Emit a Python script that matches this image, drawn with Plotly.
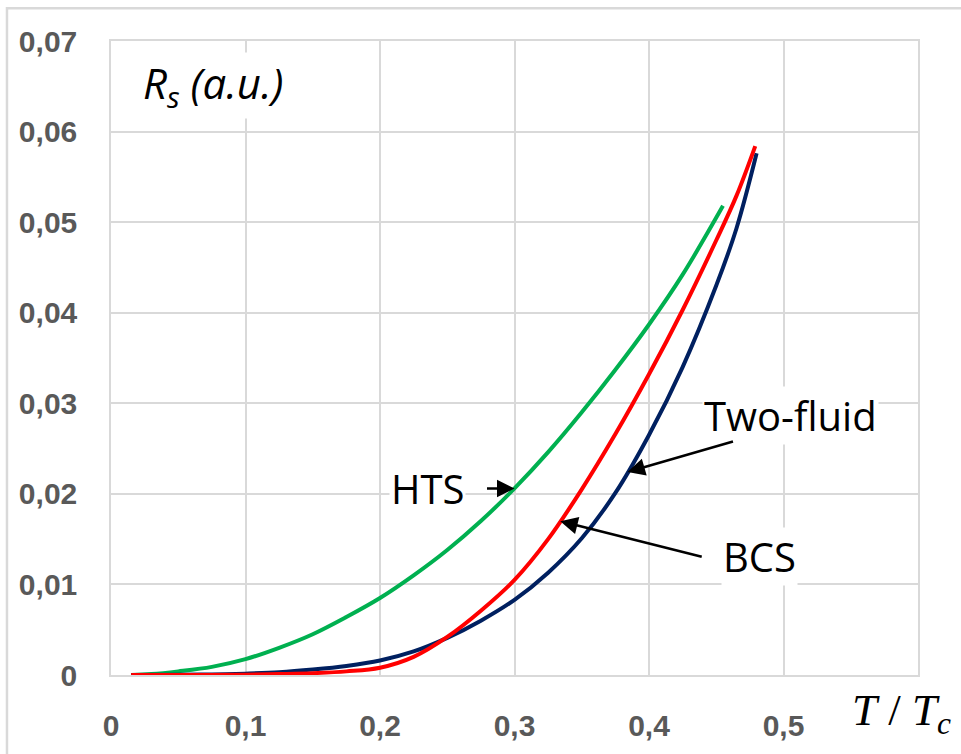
import numpy as np
import plotly.graph_objects as go

# ---- data ----
hts_T = [0.015, 0.03, 0.05, 0.075, 0.1, 0.125, 0.15, 0.175, 0.2, 0.225, 0.25,
         0.275, 0.3, 0.325, 0.35, 0.375, 0.4, 0.425, 0.455]
hts_R = [0.0, 0.0001, 0.0004, 0.0009, 0.00175, 0.0030, 0.0045, 0.0064, 0.0085,
         0.0110, 0.0138, 0.0170, 0.0206, 0.0246, 0.0290, 0.0337, 0.0387, 0.0442, 0.0518]

bcs_T = [0.015, 0.05, 0.1, 0.125, 0.15, 0.175, 0.2, 0.225, 0.25, 0.275, 0.3,
         0.325, 0.35, 0.375, 0.4, 0.425, 0.45, 0.465, 0.479]
bcs_R = [0.0, 0.0, 0.00003, 0.0001, 0.0002, 0.0004, 0.0008, 0.0020, 0.0042, 0.0071,
         0.0105, 0.0150, 0.0205, 0.0266, 0.0332, 0.0403, 0.0480, 0.0529, 0.0584]

tf_T = [0.015, 0.05, 0.075, 0.1, 0.125, 0.15, 0.175, 0.2, 0.225, 0.25, 0.275,
        0.3, 0.325, 0.35, 0.375, 0.4, 0.425, 0.45, 0.465, 0.48]
tf_R = [0.0, 0.00002, 0.00006, 0.00015, 0.0003, 0.0006, 0.0010, 0.0016, 0.0026,
        0.0041, 0.0060, 0.0083, 0.0113, 0.0151, 0.0201, 0.0265, 0.0340, 0.0430,
        0.0493, 0.0576]

x_tickvals = [0, 0.1, 0.2, 0.3, 0.4, 0.5, 0.6]
x_ticktext = ["0", "0,1", "0,2", "0,3", "0,4", "0,5", ""]
y_tickvals = [0, 0.01, 0.02, 0.03, 0.04, 0.05, 0.06, 0.07]
y_ticktext = ["0", "0,01", "0,02", "0,03", "0,04", "0,05", "0,06", "0,07"]

labels = ["HTS", "Two-fluid", "BCS"]
arrow_T = [0.300, 0.384, 0.334]          # where each arrow touches its curve

GREEN = "#00b050"
RED = "#ff0000"
NAVY = "#002060"
GRID = "#d9d9d9"
TICK = "#595959"

fig = go.Figure()
fig.add_trace(go.Scatter(x=hts_T, y=hts_R, mode="lines", name="HTS",
                         line=dict(color=GREEN, width=4, shape="spline", smoothing=1)))
fig.add_trace(go.Scatter(x=tf_T, y=tf_R, mode="lines", name="Two-fluid",
                         line=dict(color=NAVY, width=4, shape="spline", smoothing=1)))
fig.add_trace(go.Scatter(x=bcs_T, y=bcs_R, mode="lines", name="BCS",
                         line=dict(color=RED, width=4, shape="spline", smoothing=1)))

tickfont = dict(family="Liberation Sans, Arial, sans-serif",
                size=30, color=TICK, weight="bold")

fig.update_layout(
    width=961, height=754,
    margin=dict(l=111, r=43, t=41, b=75, pad=0),
    paper_bgcolor="white", plot_bgcolor="white",
    showlegend=False,
    separators=", ",
    xaxis=dict(range=[0, 0.6], tickvals=x_tickvals, ticktext=x_ticktext,
               showgrid=True, gridcolor=GRID, gridwidth=1.5,
               showline=True, linecolor=GRID, linewidth=1.5, mirror=True,
               zeroline=False, ticks="", tickfont=tickfont, ticklabelstandoff=23,
               fixedrange=True),
    yaxis=dict(range=[0, 0.07], tickvals=y_tickvals, ticktext=y_ticktext,
               showgrid=True, gridcolor=GRID, gridwidth=1.5,
               showline=True, linecolor=GRID, linewidth=1.5, mirror=True,
               zeroline=False, ticks="", tickfont=tickfont, ticklabelstandoff=26,
               fixedrange=True),
)

# outer chart frame
fig.add_shape(type="rect", xref="paper", yref="paper",
              x0=-0.1289, x1=1.07, y0=-0.14, y1=1.0517,
              line=dict(color=GRID, width=2.5), layer="below")

label_font = dict(family="Open Sans, Lato, sans-serif", size=40, color="black")

# axis titles
fig.add_annotation(xref="paper", yref="paper", x=0.037, y=0.93,
                   xanchor="left", yanchor="middle", showarrow=False,
                   text="<i>R<sub>s</sub> (a.u.)</i>",
                   font=dict(family="Open Sans, Lato, sans-serif", size=42, color="black"),
                   bgcolor="white")
fig.add_annotation(xref="paper", yref="paper", x=0.98, y=-0.06,
                   xanchor="center", yanchor="middle", showarrow=False,
                   text="<i>T</i> / <i>T<sub>c</sub></i>",
                   font=dict(family="Liberation Serif, Times New Roman, serif",
                             size=45, color="black"))

# curve labels
label_pos = [(0.3916, 0.2947), (0.8414, 0.4091), (0.8042, 0.1865)]
for lab, (px, py) in zip(labels, label_pos):
    fig.add_annotation(xref="paper", yref="paper", x=px, y=py, text=lab,
                       showarrow=False, font=label_font, bgcolor="white",
                       xanchor="center", yanchor="middle")

# arrows pointing at curves
curves = {"HTS": (hts_T, hts_R), "Two-fluid": (tf_T, tf_R), "BCS": (bcs_T, bcs_R)}
tails = {"HTS": (-29, 0), "Two-fluid": (107, -31), "BCS": (143, 36)}
for lab, t in zip(labels, arrow_T):
    cx, cy = curves[lab]
    yv = float(np.interp(t, cx, cy))
    ax, ay = tails[lab]
    fig.add_annotation(x=t, y=yv, xref="x", yref="y", text="", showarrow=True,
                       ax=ax, ay=ay, axref="pixel", ayref="pixel",
                       arrowhead=2, arrowsize=1.4, arrowwidth=2.5,
                       arrowcolor="black", standoff=0)

fig.write_html("out.html", config={"displayModeBar": False})
